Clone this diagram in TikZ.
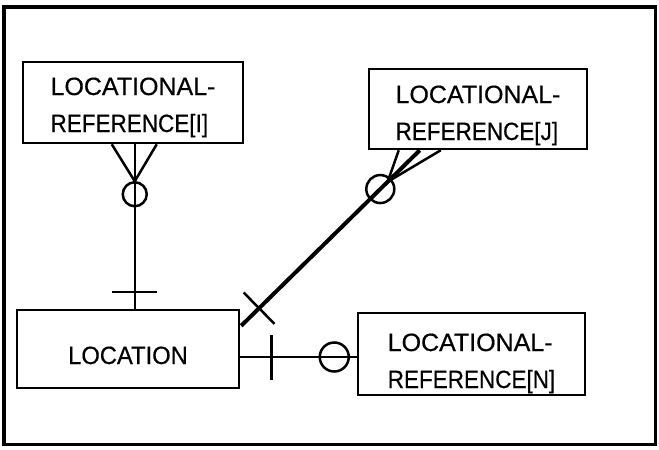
\documentclass[tikz,border=0pt]{standalone}
\usepackage{fontspec}
\setmainfont{Liberation Sans}
\usetikzlibrary{calc}
\begin{document}
\begin{tikzpicture}[x=1pt,y=1pt,
  entity/.style={draw,line width=2.5pt,inner sep=0pt,align=left,
    font=\fontsize{25}{37}\selectfont\addfontfeature{FakeBold=0.5},text depth=0pt},
  rel/.style={line width=2pt},
  relbold/.style={line width=4pt},
  glyph/.style={line width=2.5pt},
  frameheavy/.style={line width=4.5pt},
  framelight/.style={line width=3pt}]
\useasboundingbox (0,0) rectangle (659,-450);
\coordinate (ftl) at (4,-7);
\coordinate (ftr) at (655,-7);
\coordinate (fbl) at (4,-444);
\coordinate (fbr) at (655,-444);
\draw[framelight] (ftr) -- (fbr) -- (fbl);
\draw[frameheavy,line cap=rect] (fbl) -- (ftl) -- (ftr);

\node[entity,minimum width=220pt,minimum height=81pt,text height=59pt] (I) at (133,-102.5)
  {LOCATIONAL-\\\scalebox{0.9}[1]{REFERENCE[I]}};
\node[entity,minimum width=218pt,minimum height=80pt,text height=62pt] (J) at (478,-109)
  {LOCATIONAL-\\\scalebox{0.9}[1]{REFERENCE[J]}};
\node[entity,minimum width=222pt,minimum height=78pt,text height=30pt] (LOC) at (128,-349)
  {\scalebox{0.95}[1]{LOCATION}};
\node[entity,minimum width=227pt,minimum height=82pt,text height=68pt] (N) at (471.5,-354)
  {LOCATIONAL-\\\scalebox{0.9}[1]{REFERENCE[N]}};

% LOCATION -- REFERENCE[I]
\coordinate (ia) at ($(I.south west)+(113,0)$);
\coordinate (ib) at (ia |- LOC.north);
\draw[rel] (ia) -- (ib);
\coordinate (ifoot) at ($(ia)+(0,-37)$);
\draw[glyph] ($(I.south west)+(90,0)$) -- (ifoot) -- ($(I.south west)+(135,0)$);
\draw[glyph] ($(ia)+(0,-50)$) circle (12);
\draw[glyph] ($(ib)+(-22.5,17)$) -- ($(ib)+(22.5,17)$);

% LOCATION -- REFERENCE[J]
\coordinate (ja) at ($(LOC.north east)+(1,-17)$);
\coordinate (jb) at ($(J.south west)+(52,0)$);
\draw[relbold] (ja) -- (jb);
\coordinate (jfoot) at ($(jb)!45pt!(ja)$);
\draw[glyph] ($(J.south west)+(31,0)$) -- (jfoot) -- ($(J.south west)+(73,0)$);
\draw[glyph] ($(ja)!195pt!(jb)$) circle (14);
\coordinate (jx) at ($(ja)!25pt!(jb)$);
\draw[glyph] ($(jx)!22pt!90:(jb)$) -- ($(jx)!22pt!-90:(jb)$);

% LOCATION -- REFERENCE[N]
\coordinate (na) at ($(LOC.east)+(0,-8)$);
\coordinate (nb) at (na -| N.west);
\draw[rel] (na) -- (nb);
\draw[glyph] ($(na)+(31,22)$) -- ($(na)+(31,-23)$);
\draw[glyph] ($(na)+(94,0)$) circle (14.5);
\end{tikzpicture}
\end{document}
